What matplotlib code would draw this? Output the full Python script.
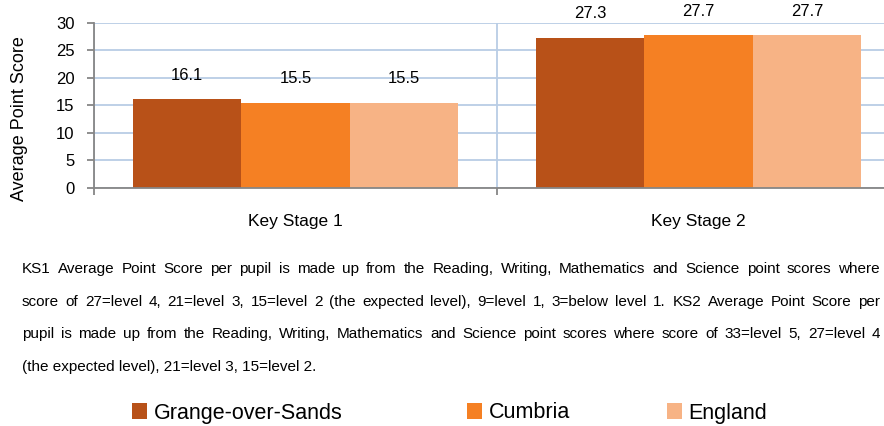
import matplotlib
matplotlib.use("Agg")
import matplotlib.pyplot as plt
import numpy as np
from matplotlib import font_manager

# data
categories = ["Key Stage 1", "Key Stage 2"]
series_names = ["Grange-over-Sands", "Cumbria", "England"]
grange = [16.1, 27.3]
cumbria = [15.5, 27.7]
england = [15.5, 27.7]
series_values = [grange, cumbria, england]
colors = ["#b85118", "#f58023", "#f7b385"]

note_lines = [
    "KS1 Average Point Score per pupil is made up from the Reading, Writing, Mathematics and Science point scores where",
    "score of 27=level 4, 21=level 3, 15=level 2 (the expected level), 9=level 1, 3=below level 1. KS2 Average Point Score per",
    "pupil is made up from the Reading, Writing, Mathematics and Science point scores where score of 33=level 5, 27=level 4",
    "(the expected level), 21=level 3, 15=level 2.",
]

names = {f.name for f in font_manager.fontManager.ttflist}
base_font = "Liberation Sans" if "Liberation Sans" in names else "DejaVu Sans"
plt.rcParams["font.family"] = base_font

W, H = 884, 426
fig = plt.figure(figsize=(W / 100, H / 100), dpi=100)
ax = fig.add_axes([94 / W, 238 / H, 806 / W, 165.3 / H])

x = np.arange(len(categories))
bw = 0.269
grid_col = "#b9cde5"
axis_col = "#868686"

for i, (name, vals, col) in enumerate(zip(series_names, series_values, colors)):
    bars = ax.bar(x + (i - 1) * bw, vals, width=bw, color=col, label=name, zorder=3)
    ax.bar_label(bars, labels=[f"{v:.1f}" for v in vals], padding=12, fontsize=12,
                 color="#000000")

ax.set_xlim(-0.5, 1.5)
ax.set_ylim(0, 30)
ax.set_yticks(np.arange(0, 31, 5))
ax.set_xticks(x)
ax.set_xticklabels(categories)
ax.set_xticks([-0.5, 0.5, 1.5], minor=True)

ax.grid(axis="y", color=grid_col, linewidth=1.3, zorder=0)
ax.grid(axis="x", which="minor", color=grid_col, linewidth=1.3, zorder=0)
ax.tick_params(axis="x", which="major", length=0, pad=19, labelsize=12.5)
ax.tick_params(axis="x", which="minor", length=5, color=axis_col, width=1.3)
ax.tick_params(axis="y", length=5, color=axis_col, width=1.3, pad=9, labelsize=12)

for s in ["top", "right"]:
    ax.spines[s].set_visible(False)
for s in ["left", "bottom"]:
    ax.spines[s].set_color(axis_col)
    ax.spines[s].set_linewidth(1.3)
    ax.spines[s].set_zorder(4)

ax.set_ylabel("Average Point Score", fontsize=13)
ax.yaxis.set_label_coords(-66 / 806, 0.42)

# justified note text
renderer = fig.canvas.get_renderer()
left_px, right_px = 22, 880
line_y = [269, 302, 334, 367]
note_size = 11
for li, (line, ypx) in enumerate(zip(note_lines, line_y)):
    yf = (H - ypx) / H
    if li == len(note_lines) - 1:
        fig.text(left_px / W, yf, line, fontsize=note_size, va="center", ha="left")
        continue
    words = line.split(" ")
    texts = [fig.text(0, yf, w, fontsize=note_size, va="center", ha="left") for w in words]
    widths = [t.get_window_extent(renderer).width for t in texts]
    gap = (right_px - left_px - sum(widths)) / (len(words) - 1)
    pos = left_px
    for t, wd in zip(texts, widths):
        t.set_x(pos / W)
        pos += wd + gap

# legend, one entry each at its own place
handles, labels = ax.get_legend_handles_labels()
legend_x = [132, 467, 667]
for h, lab, lx in zip(handles, labels, legend_x):
    fig.legend([h], [lab], loc="center left", bbox_to_anchor=(lx / W, 13 / H),
               frameon=False, prop={"size": 15.5},
               handlelength=0.7, handleheight=0.7, handletextpad=0.3,
               borderpad=0, borderaxespad=0)

fig.savefig("out.png", dpi=100)
